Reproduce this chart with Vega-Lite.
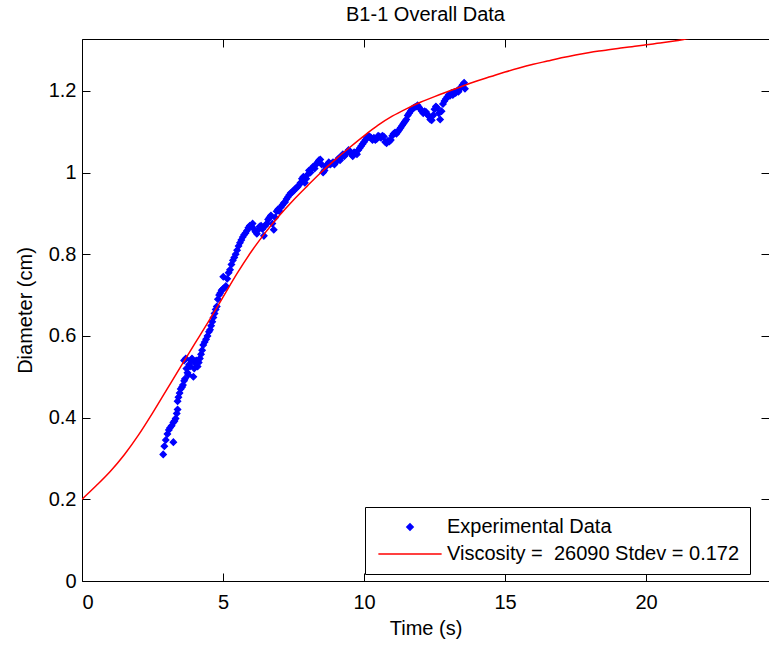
{
  "$schema": "https://vega.github.io/schema/vega-lite/v6.json",
  "width": 687,
  "height": 542,
  "autosize": {"type": "none"},
  "padding": {"left": 82, "top": 39, "right": 0, "bottom": 64},
  "title": {"text": "B1-1 Overall Data", "fontSize": 20, "fontWeight": "normal", "font": "Liberation Sans", "color": "black", "offset": 14},
  "datasets": {
    "exp": [
      {"t":2.88,"d":0.31},{"t":2.92,"d":0.33},{"t":2.97,"d":0.345},{"t":3.03,"d":0.36},{"t":3.08,"d":0.37},{"t":3.12,"d":0.375},{"t":3.18,"d":0.38},{"t":3.24,"d":0.34},{"t":3.24,"d":0.388},{"t":3.28,"d":0.392},{"t":3.32,"d":0.398},{"t":3.36,"d":0.41},{"t":3.39,"d":0.42},{"t":3.39,"d":0.44},{"t":3.42,"d":0.45},{"t":3.46,"d":0.46},{"t":3.5,"d":0.47},{"t":3.55,"d":0.475},{"t":3.58,"d":0.48},{"t":3.62,"d":0.49},{"t":3.65,"d":0.495},{"t":3.62,"d":0.54},{"t":3.68,"d":0.545},{"t":3.7,"d":0.52},{"t":3.74,"d":0.51},{"t":3.77,"d":0.505},{"t":3.8,"d":0.53},{"t":3.83,"d":0.525},{"t":3.86,"d":0.54},{"t":3.9,"d":0.545},{"t":3.95,"d":0.5},{"t":3.98,"d":0.52},{"t":4.0,"d":0.535},{"t":4.05,"d":0.54},{"t":4.1,"d":0.525},{"t":4.14,"d":0.535},{"t":4.18,"d":0.545},{"t":4.22,"d":0.555},{"t":4.26,"d":0.565},{"t":4.3,"d":0.578},{"t":4.35,"d":0.585},{"t":4.4,"d":0.592},{"t":4.45,"d":0.6},{"t":4.5,"d":0.61},{"t":4.54,"d":0.615},{"t":4.58,"d":0.625},{"t":4.62,"d":0.635},{"t":4.66,"d":0.645},{"t":4.7,"d":0.655},{"t":4.74,"d":0.665},{"t":4.78,"d":0.672},{"t":4.82,"d":0.69},{"t":4.86,"d":0.7},{"t":4.9,"d":0.705},{"t":4.95,"d":0.712},{"t":5.0,"d":0.715},{"t":5.05,"d":0.718},{"t":5.1,"d":0.722},{"t":5.01,"d":0.745},{"t":5.15,"d":0.74},{"t":5.2,"d":0.755},{"t":5.25,"d":0.762},{"t":5.3,"d":0.775},{"t":5.35,"d":0.785},{"t":5.4,"d":0.792},{"t":5.45,"d":0.8},{"t":5.5,"d":0.81},{"t":5.55,"d":0.82},{"t":5.6,"d":0.828},{"t":5.65,"d":0.835},{"t":5.7,"d":0.842},{"t":5.75,"d":0.848},{"t":5.8,"d":0.852},{"t":5.85,"d":0.858},{"t":5.9,"d":0.865},{"t":5.95,"d":0.87},{"t":6.0,"d":0.868},{"t":6.05,"d":0.875},{"t":6.1,"d":0.862},{"t":6.15,"d":0.855},{"t":6.2,"d":0.85},{"t":6.25,"d":0.86},{"t":6.3,"d":0.868},{"t":6.35,"d":0.87},{"t":6.4,"d":0.862},{"t":6.45,"d":0.845},{"t":6.5,"d":0.87},{"t":6.55,"d":0.875},{"t":6.6,"d":0.885},{"t":6.65,"d":0.89},{"t":6.7,"d":0.895},{"t":6.75,"d":0.875},{"t":6.8,"d":0.86},{"t":6.85,"d":0.89},{"t":6.9,"d":0.905},{"t":6.95,"d":0.91},{"t":7.0,"d":0.905},{"t":7.05,"d":0.915},{"t":7.1,"d":0.92},{"t":7.15,"d":0.925},{"t":7.2,"d":0.928},{"t":7.25,"d":0.935},{"t":7.3,"d":0.94},{"t":7.35,"d":0.945},{"t":7.4,"d":0.95},{"t":7.45,"d":0.952},{"t":7.5,"d":0.955},{"t":7.55,"d":0.96},{"t":7.6,"d":0.962},{"t":7.65,"d":0.965},{"t":7.7,"d":0.97},{"t":7.75,"d":0.975},{"t":7.8,"d":0.985},{"t":7.85,"d":0.99},{"t":7.9,"d":0.975},{"t":7.95,"d":0.985},{"t":8.0,"d":0.995},{"t":8.05,"d":1.005},{"t":8.1,"d":1.0},{"t":8.15,"d":1.01},{"t":8.2,"d":1.015},{"t":8.25,"d":1.01},{"t":8.3,"d":1.02},{"t":8.35,"d":1.025},{"t":8.4,"d":1.03},{"t":8.45,"d":1.032},{"t":8.5,"d":1.02},{"t":8.55,"d":1.0},{"t":8.6,"d":1.005},{"t":8.65,"d":1.015},{"t":8.7,"d":1.02},{"t":8.75,"d":1.025},{"t":8.8,"d":1.02},{"t":8.85,"d":1.022},{"t":8.9,"d":1.025},{"t":8.95,"d":1.02},{"t":9.0,"d":1.025},{"t":9.05,"d":1.03},{"t":9.1,"d":1.035},{"t":9.15,"d":1.03},{"t":9.2,"d":1.04},{"t":9.25,"d":1.045},{"t":9.3,"d":1.04},{"t":9.35,"d":1.045},{"t":9.4,"d":1.05},{"t":9.45,"d":1.055},{"t":9.5,"d":1.052},{"t":9.55,"d":1.045},{"t":9.6,"d":1.04},{"t":9.65,"d":1.05},{"t":9.7,"d":1.048},{"t":9.75,"d":1.045},{"t":9.8,"d":1.055},{"t":9.85,"d":1.06},{"t":9.9,"d":1.065},{"t":9.95,"d":1.07},{"t":10.0,"d":1.075},{"t":10.05,"d":1.08},{"t":10.1,"d":1.085},{"t":10.15,"d":1.09},{"t":10.2,"d":1.088},{"t":10.25,"d":1.085},{"t":10.3,"d":1.08},{"t":10.35,"d":1.085},{"t":10.4,"d":1.08},{"t":10.45,"d":1.082},{"t":10.5,"d":1.09},{"t":10.55,"d":1.088},{"t":10.6,"d":1.085},{"t":10.65,"d":1.09},{"t":10.7,"d":1.088},{"t":10.75,"d":1.075},{"t":10.8,"d":1.072},{"t":10.85,"d":1.078},{"t":10.9,"d":1.076},{"t":10.95,"d":1.08},{"t":11.0,"d":1.09},{"t":11.05,"d":1.095},{"t":11.1,"d":1.098},{"t":11.15,"d":1.095},{"t":11.2,"d":1.1},{"t":11.25,"d":1.105},{"t":11.3,"d":1.11},{"t":11.35,"d":1.115},{"t":11.4,"d":1.12},{"t":11.45,"d":1.125},{"t":11.5,"d":1.13},{"t":11.55,"d":1.14},{"t":11.6,"d":1.145},{"t":11.65,"d":1.15},{"t":11.7,"d":1.155},{"t":11.75,"d":1.158},{"t":11.8,"d":1.16},{"t":11.85,"d":1.162},{"t":11.9,"d":1.165},{"t":11.95,"d":1.16},{"t":12.0,"d":1.155},{"t":12.05,"d":1.15},{"t":12.1,"d":1.145},{"t":12.15,"d":1.15},{"t":12.2,"d":1.148},{"t":12.25,"d":1.142},{"t":12.3,"d":1.138},{"t":12.35,"d":1.13},{"t":12.4,"d":1.128},{"t":12.45,"d":1.14},{"t":12.5,"d":1.155},{"t":12.55,"d":1.162},{"t":12.6,"d":1.158},{"t":12.65,"d":1.145},{"t":12.7,"d":1.13},{"t":12.75,"d":1.15},{"t":12.8,"d":1.168},{"t":12.85,"d":1.175},{"t":12.9,"d":1.18},{"t":12.95,"d":1.185},{"t":13.0,"d":1.19},{"t":13.05,"d":1.188},{"t":13.1,"d":1.195},{"t":13.15,"d":1.19},{"t":13.2,"d":1.197},{"t":13.25,"d":1.195},{"t":13.3,"d":1.2},{"t":13.35,"d":1.198},{"t":13.4,"d":1.205},{"t":13.45,"d":1.21},{"t":13.5,"d":1.215},{"t":13.55,"d":1.22},{"t":13.58,"d":1.205}
    ],
    "fit": [
      {"t":0,"d":0.2},{"t":0.5,"d":0.233},{"t":1.0,"d":0.268},{"t":1.5,"d":0.309},{"t":2.0,"d":0.357},{"t":2.5,"d":0.411},{"t":3.0,"d":0.468},{"t":3.5,"d":0.525},{"t":4.0,"d":0.581},{"t":4.5,"d":0.637},{"t":5.0,"d":0.695},{"t":5.5,"d":0.753},{"t":6.0,"d":0.806},{"t":6.5,"d":0.853},{"t":7.0,"d":0.895},{"t":7.5,"d":0.933},{"t":8.0,"d":0.968},{"t":8.5,"d":1.002},{"t":9.0,"d":1.033},{"t":9.5,"d":1.062},{"t":10.0,"d":1.09},{"t":10.5,"d":1.116},{"t":11.0,"d":1.138},{"t":11.5,"d":1.156},{"t":12.0,"d":1.172},{"t":12.5,"d":1.186},{"t":13.0,"d":1.199},{"t":13.5,"d":1.212},{"t":14.0,"d":1.224},{"t":14.5,"d":1.235},{"t":15.0,"d":1.246},{"t":15.5,"d":1.256},{"t":16.0,"d":1.265},{"t":16.5,"d":1.273},{"t":17.0,"d":1.281},{"t":17.5,"d":1.288},{"t":18.0,"d":1.294},{"t":18.5,"d":1.299},{"t":19.0,"d":1.304},{"t":19.5,"d":1.308},{"t":20.0,"d":1.313},{"t":20.5,"d":1.317},{"t":21.0,"d":1.322},{"t":21.5,"d":1.328},{"t":22.0,"d":1.334}
    ]
  },
  "layer": [
    {
      "data": {"name": "exp"},
      "mark": {"type": "point", "filled": true, "opacity": 1, "strokeWidth": 1.2, "clip": true},
      "encoding": {
        "x": {"field": "t", "type": "quantitative", "scale": {"domain": [0, 24.36], "nice": false, "zero": false},
              "axis": {"values": [0, 5, 10, 15, 20], "title": "Time (s)", "labelPadding": 19, "titlePadding": 6}},
        "y": {"field": "d", "type": "quantitative", "scale": {"domain": [0, 1.327], "nice": false},
              "axis": {"values": [0, 0.2, 0.4, 0.6, 0.8, 1, 1.2], "format": "~g", "title": "Diameter (cm)", "labelPadding": 14, "titlePadding": 13}},
        "color": {"datum": "Experimental Data", "type": "nominal",
                  "scale": {"domain": ["Experimental Data", "Viscosity =\u00a0 26090 Stdev = 0.172"], "range": ["#0000ff", "#ff0000"]},
                  "legend": {
                    "title": null, "orient": "none", "legendX": 283, "legendY": 468,
                    "strokeColor": "black", "fillColor": "white", "padding": 10, "cornerRadius": 0,
                    "labelFontSize": 20, "labelFont": "Liberation Sans", "labelColor": "black", "labelLimit": 0,
                    "rowPadding": 7, "labelOffset": 27, "symbolOffset": 25, "symbolStrokeWidth": 1.5
                  }},
        "stroke": {"datum": "Experimental Data", "type": "nominal",
                  "scale": {"domain": ["Experimental Data", "Viscosity =\u00a0 26090 Stdev = 0.172"], "range": ["#0000ff", "#ff0000"]},
                  "legend": {
                    "title": null, "orient": "none", "legendX": 283, "legendY": 468,
                    "strokeColor": "black", "fillColor": "white", "padding": 10, "cornerRadius": 0,
                    "labelFontSize": 20, "labelFont": "Liberation Sans", "labelColor": "black", "labelLimit": 0,
                    "rowPadding": 7, "labelOffset": 27, "symbolOffset": 25, "symbolStrokeWidth": 1.5
                  }},
        "shape": {"datum": "Experimental Data", "type": "nominal",
                  "scale": {"domain": ["Experimental Data", "Viscosity =\u00a0 26090 Stdev = 0.172"], "range": ["diamond", "M-5,0H5"]},
                  "legend": {
                    "title": null, "orient": "none", "legendX": 283, "legendY": 468,
                    "strokeColor": "black", "fillColor": "white", "padding": 10, "cornerRadius": 0,
                    "labelFontSize": 20, "labelFont": "Liberation Sans", "labelColor": "black", "labelLimit": 0,
                    "rowPadding": 7, "labelOffset": 27, "symbolOffset": 25, "symbolStrokeWidth": 1.5
                  }},
        "size": {"datum": "Experimental Data", "type": "nominal",
                  "scale": {"domain": ["Experimental Data", "Viscosity =\u00a0 26090 Stdev = 0.172"], "range": [40, 160]},
                  "legend": {
                    "title": null, "orient": "none", "legendX": 283, "legendY": 468,
                    "strokeColor": "black", "fillColor": "white", "padding": 10, "cornerRadius": 0,
                    "labelFontSize": 20, "labelFont": "Liberation Sans", "labelColor": "black", "labelLimit": 0,
                    "rowPadding": 7, "labelOffset": 27, "symbolOffset": 25, "symbolStrokeWidth": 1.5
                  }}
      }
    },
    {
      "data": {"name": "fit"},
      "mark": {"type": "line", "color": "#ff0000", "strokeWidth": 1.5, "clip": true, "interpolate": "monotone"},
      "encoding": {
        "x": {"field": "t", "type": "quantitative", "axis": null},
        "y": {"field": "d", "type": "quantitative", "axis": null}
      }
    },
    {
      "data": {"name": "fit"},
      "mark": {"type": "point", "opacity": 0, "clip": true},
      "encoding": {
        "x": {"field": "t", "type": "quantitative", "axis": {"orient": "top", "labels": false, "title": null, "values": [0, 5, 10, 15, 20]}},
        "y": {"field": "d", "type": "quantitative", "axis": {"orient": "right", "labels": false, "title": null, "domain": false, "values": [0, 0.2, 0.4, 0.6, 0.8, 1, 1.2]}}
      }
    }
  ],
  "resolve": {"axis": {"x": "independent", "y": "independent"}},
  "config": {
    "font": "Liberation Sans",
    "view": {"stroke": null},
    "axis": {"labelFontSize": 20, "titleFontSize": 20, "titleFontWeight": "normal", "labelColor": "black", "titleColor": "black",
             "domainColor": "black", "tickColor": "black", "grid": false, "tickSize": -8, "domainWidth": 1, "tickWidth": 1, "labelFont": "Liberation Sans", "titleFont": "Liberation Sans"}
  }
}
